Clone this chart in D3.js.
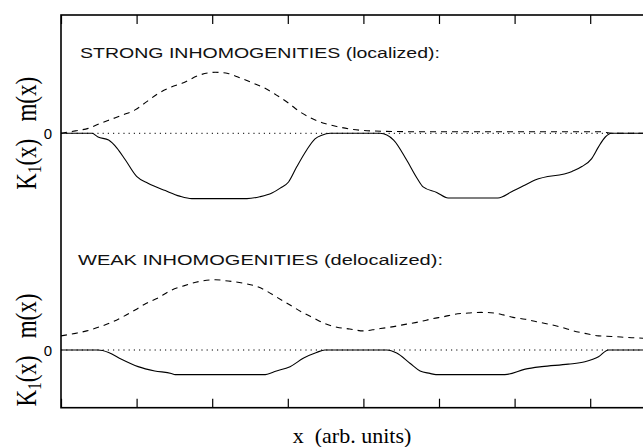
<!DOCTYPE html>
<html><head><meta charset="utf-8">
<script src="https://cdn.jsdelivr.net/npm/d3@7"></script>
<style>body{margin:0;background:#fff}svg{display:block}</style>
</head><body>
<script>
// x positions (arb. units) and values
const xTicks = [0,1,2,3,4,5,6,7,8];
const panelTitles = ["STRONG INHOMOGENITIES (localized):", "WEAK INHOMOGENITIES (delocalized):"];

const strongK = [[0,0],[0.41,0],[0.49,-0.06],[0.63,-0.11],[0.74,-0.24],[0.85,-0.43],[1.00,-0.70],[1.15,-0.81],[1.38,-0.93],[1.57,-1.02],[1.73,-1.06],[2.46,-1.06],[2.63,-1.03],[2.79,-0.97],[2.90,-0.89],[3.01,-0.79],[3.12,-0.54],[3.25,-0.27],[3.36,-0.09],[3.45,-0.03],[3.56,0],[4.22,0],[4.40,-0.11],[4.57,-0.43],[4.71,-0.73],[4.79,-0.87],[4.97,-0.96],[5.12,-1.05],[5.78,-1.05],[5.96,-0.95],[6.14,-0.84],[6.27,-0.76],[6.76,-0.62],[6.89,-0.54],[7.02,-0.41],[7.11,-0.22],[7.20,-0.06],[7.28,0],[8,0]];
const strongM = [[0,0],[0.19,0.04],[0.36,0.08],[0.52,0.16],[0.67,0.23],[0.82,0.30],[0.98,0.38],[1.13,0.51],[1.29,0.65],[1.46,0.75],[1.62,0.82],[1.82,0.94],[2.04,0.99],[2.21,0.97],[2.39,0.89],[2.53,0.82],[2.70,0.73],[2.85,0.62],[3.01,0.49],[3.16,0.35],[3.32,0.24],[3.49,0.16],[3.65,0.11],[3.82,0.07],[4.09,0.04],[4.75,0.025],[5.81,0.025],[7.13,0.025],[7.29,0],[8,0]];
const weakK = [[0,0],[0.49,0],[0.63,-0.04],[0.80,-0.15],[1.02,-0.27],[1.24,-0.34],[1.46,-0.38],[1.51,-0.40],[2.68,-0.40],[2.85,-0.34],[3.03,-0.27],[3.21,-0.13],[3.38,-0.04],[3.49,0],[4.31,0],[4.44,-0.05],[4.62,-0.22],[4.75,-0.34],[4.88,-0.38],[4.96,-0.40],[5.87,-0.40],[6.14,-0.31],[6.36,-0.27],[6.71,-0.23],[6.93,-0.19],[7.11,-0.11],[7.24,0],[8,0]];
const weakM = [[0,0.23],[0.19,0.27],[0.34,0.31],[0.52,0.38],[0.67,0.45],[0.82,0.54],[0.98,0.65],[1.13,0.76],[1.29,0.85],[1.44,0.96],[1.62,1.04],[1.82,1.11],[2.04,1.14],[2.21,1.12],[2.43,1.08],[2.57,1.04],[2.70,0.97],[2.85,0.86],[3.03,0.73],[3.18,0.62],[3.34,0.52],[3.49,0.43],[3.65,0.37],[3.82,0.34],[4.00,0.31],[4.18,0.34],[4.40,0.38],[4.57,0.42],[4.75,0.46],[4.92,0.51],[5.06,0.54],[5.21,0.58],[5.39,0.60],[5.56,0.61],[5.74,0.60],[5.85,0.57],[5.98,0.53],[6.14,0.50],[6.29,0.46],[6.45,0.42],[6.62,0.37],[6.78,0.31],[6.93,0.27],[7.11,0.23],[7.28,0.22],[7.55,0.20],[8,0.18]];

(function () {
const W = 643, H = 447;
const svg = d3.select("body").append("svg").attr("width", W).attr("height", H);
const pl = 61, pr = 665.8, pt = 15, pb = 407.7;
const x = d3.scaleLinear().domain([0, 8]).range([pl, pr]);
const unit = 61.6;
const yTop = d3.scaleLinear().domain([-1, 1]).range([133.3 + unit, 133.3 - unit]);
const yBot = d3.scaleLinear().domain([-1, 1]).range([350 + unit, 350 - unit]);

svg.append("rect").attr("x", pl).attr("y", pt).attr("width", pr - pl).attr("height", pb - pt)
  .attr("fill", "none").attr("stroke", "#000").attr("stroke-width", 1.6);
const axTop = d3.axisTop(x).tickValues(xTicks).tickSize(-9).tickFormat("");
const axBot = d3.axisBottom(x).tickValues(xTicks).tickSize(-9).tickFormat("");
const gT = svg.append("g").attr("transform", `translate(0,${pt})`).call(axTop);
const gB = svg.append("g").attr("transform", `translate(0,${pb})`).call(axBot);
[gT, gB].forEach(g => { g.select(".domain").remove(); g.selectAll("line").attr("stroke", "#000").attr("stroke-width", 1.2); });

function panel(y, K, M, title, titleX, titleY, titleLen) {
  const line = d3.line().x(d => x(d[0])).y(d => y(d[1])).curve(d3.curveMonotoneX);
  svg.append("line").attr("x1", pl).attr("x2", W).attr("y1", y(0)).attr("y2", y(0))
    .attr("stroke", "#000").attr("stroke-width", 1).attr("stroke-dasharray", "1.2,4");
  svg.append("path").attr("d", line(M)).attr("fill", "none").attr("stroke", "#000")
    .attr("stroke-width", 1.1).attr("stroke-dasharray", "6,5");
  svg.append("path").attr("d", line(K)).attr("fill", "none").attr("stroke", "#000").attr("stroke-width", 1.1);
  svg.append("text").attr("x", 52).attr("y", y(0) + 5.5).attr("text-anchor", "end")
    .attr("font-family", "Liberation Sans, Arial, sans-serif").attr("font-size", 15).text("0");
  svg.append("text").attr("x", titleX).attr("y", titleY)
    .attr("font-family", "Liberation Sans, Arial, sans-serif").attr("font-size", 15.5).attr("fill", "#111")
    .attr("textLength", titleLen).attr("lengthAdjust", "spacingAndGlyphs").text(title);
  const lab = svg.append("text").attr("transform", `translate(36,${y(0)}) rotate(-90) scale(1,1.3)`).attr("text-anchor", "middle")
    .attr("font-family", "Liberation Serif, Times New Roman, serif").attr("font-size", 23);
  lab.append("tspan").text("K");
  lab.append("tspan").attr("font-size", 15).attr("dy", 4).text("1");
  lab.append("tspan").attr("dy", -4).text("(x)\u00a0\u00a0\u00a0m(x)");
}
panel(yTop, strongK, strongM, panelTitles[0], 80, 58, 360);
panel(yBot, weakK, weakM, panelTitles[1], 78, 265, 365);

svg.append("text").attr("x", 352).attr("y", 443).attr("text-anchor", "middle")
  .attr("font-family", "Liberation Serif, Times New Roman, serif").attr("font-size", 22).text("x\u00a0 (arb. units)");
})();
</script>
</body></html>
